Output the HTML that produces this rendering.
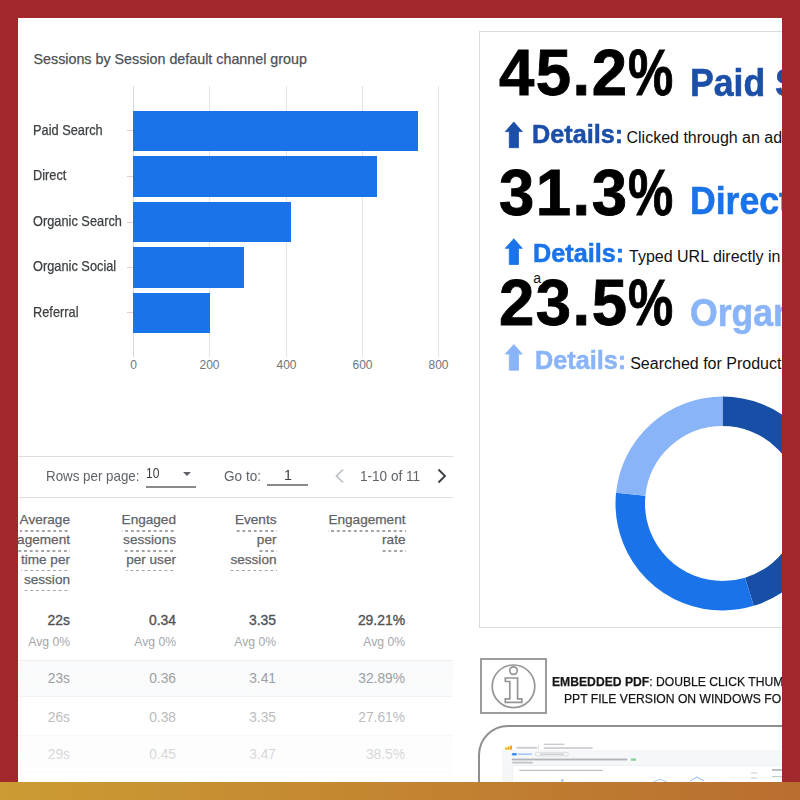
<!DOCTYPE html>
<html><head><meta charset="utf-8">
<style>
*{margin:0;padding:0;box-sizing:border-box}
html,body{width:800px;height:800px;overflow:hidden;background:#A1292D;font-family:"Liberation Sans",sans-serif}
#page{position:absolute;left:0;top:0;width:800px;height:800px;background:#fff;clip-path:inset(18px 18px 18px 18px);overflow:hidden}
.a{position:absolute;white-space:nowrap;line-height:1}
.r{text-align:right}
.g{position:absolute;background:#e3e3e3;width:1px}
.bar{position:absolute;left:133px;background:#1A73E8;height:41px}
.tk{position:absolute;left:127px;width:6px;height:1px;background:#d5d5d5}
.lbl{font-size:14.3px;color:#3c4043;-webkit-text-stroke:.25px #3c4043;transform:scaleX(.895);transform-origin:0 0}
.ax{font-size:12px;color:#70757a;width:40px;text-align:center}
.hd{font-size:13.6px;color:#5f6368;line-height:19.9px;-webkit-text-stroke:.25px #5f6368}
.hd span{padding-bottom:4.3px;background-image:linear-gradient(90deg,#a0a4a8 50%,transparent 50%);background-size:5.7px 1.6px;background-repeat:repeat-x;background-position:right bottom}
.pg{font-size:15px;color:#5f6368;transform:scaleX(.905);transform-origin:0 0}
.dot{position:absolute;height:1.5px;background-image:linear-gradient(90deg,#9aa0a6 60%,transparent 60%);background-size:4px 1.5px}
.v1{font-size:13.9px;color:#4f5358;-webkit-text-stroke:.35px #4f5358}
.avg{font-size:12.2px;color:#a3a7ab}
.v{font-size:13.8px;color:#7a7e83}
.big{left:499px;font-size:65.5px;font-weight:bold;color:#000;letter-spacing:1.5px;-webkit-text-stroke:.9px #000;transform:scaleX(.97);transform-origin:0 0}
.pc{display:inline-block;transform:scaleX(.8);transform-origin:0 0;letter-spacing:0}
.ttl{left:690.3px;font-size:38.5px;font-weight:bold;-webkit-text-stroke:.6px currentColor;transform:scaleX(.925);transform-origin:0 0}
.det{left:531.5px;font-size:26px;font-weight:bold;-webkit-text-stroke:.5px currentColor;transform:scaleX(.97);transform-origin:0 0}
.desc{left:626.5px;font-size:16px;color:#111}
.emb{font-size:13.5px;color:#151515;-webkit-text-stroke:.25px #151515;transform:scaleX(.9);transform-origin:0 0}
#gold{position:absolute;left:0;top:782px;width:800px;height:18px;background:linear-gradient(90deg,#CC9B33,#B96E2F)}
</style></head><body>
<div id="page">
  <!-- Chart -->
  <div class="a" style="left:33.5px;top:52.3px;font-size:14.3px;color:#4d5156;-webkit-text-stroke:.25px #4d5156">Sessions by Session default channel group</div>
  <div class="g" style="left:133px;top:86px;height:270.5px;background:#d8d8d8"></div>
  <div class="g" style="left:209px;top:86px;height:270.5px"></div>
  <div class="g" style="left:286px;top:86px;height:270.5px"></div>
  <div class="g" style="left:362px;top:86px;height:270.5px"></div>
  <div class="g" style="left:438px;top:86px;height:270.5px"></div>
  <div class="bar" style="top:110.5px;height:40px;width:285.1px"></div>
  <div class="bar" style="top:155.8px;height:41.2px;width:243.7px"></div>
  <div class="bar" style="top:202.4px;height:39.2px;width:158px"></div>
  <div class="bar" style="top:247.1px;height:41.2px;width:110.8px"></div>
  <div class="bar" style="top:292.9px;height:39.85px;width:77px"></div>
  <div class="tk" style="top:130px"></div>
  <div class="tk" style="top:176px"></div>
  <div class="tk" style="top:222px"></div>
  <div class="tk" style="top:267px"></div>
  <div class="tk" style="top:312px"></div>
  <div class="a lbl" style="left:33px;top:122.8px">Paid Search</div>
  <div class="a lbl" style="left:33px;top:168.3px">Direct</div>
  <div class="a lbl" style="left:33px;top:214.3px">Organic Search</div>
  <div class="a lbl" style="left:33px;top:259.3px">Organic Social</div>
  <div class="a lbl" style="left:33px;top:304.8px">Referral</div>
  <div class="a ax" style="left:113.5px;top:359px">0</div>
  <div class="a ax" style="left:189.5px;top:359px">200</div>
  <div class="a ax" style="left:266.5px;top:359px">400</div>
  <div class="a ax" style="left:342.5px;top:359px">600</div>
  <div class="a ax" style="left:418.5px;top:359px">800</div>

  <!-- Table -->
  <div style="position:absolute;left:18px;top:455.7px;width:434.8px;height:1.2px;background:#dcdee2"></div>
  <div style="position:absolute;left:18px;top:496.5px;width:434.8px;height:1.2px;background:#dcdee2"></div>
  <div class="a pg" style="left:46.3px;top:467.7px;transform:scaleX(.89)">Rows per page:</div>
  <div class="a pg" style="left:145.6px;top:466.2px;color:#3c4043;font-size:14px;transform:scaleX(.86)">10</div>
  <div style="position:absolute;left:182.8px;top:471.5px;width:0;height:0;border-left:4px solid transparent;border-right:4px solid transparent;border-top:4.5px solid #5f6368"></div>
  <div style="position:absolute;left:146px;top:485.9px;width:49.6px;height:1.7px;background:#8a8a8a"></div>
  <div class="a pg" style="left:223.5px;top:467.7px">Go to:</div>
  <div class="a pg" style="left:284px;top:466.5px;color:#3c4043;transform:scaleX(.95)">1</div>
  <div style="position:absolute;left:267px;top:484.4px;width:40.5px;height:1.5px;background:#8a8a8a"></div>
  <svg style="position:absolute;left:333px;top:467px" width="14" height="18"><path d="M10 2.5 L3.5 9 L10 15.5" fill="none" stroke="#bdc1c6" stroke-width="1.7"/></svg>
  <div class="a pg" style="left:359.5px;top:467.7px">1-10 of 11</div>
  <svg style="position:absolute;left:435px;top:467px" width="14" height="18"><path d="M3.5 2.5 L10 9 L3.5 15.5" fill="none" stroke="#3c4043" stroke-width="1.9"/></svg>

  <!-- header cols -->
  <div class="a hd r" style="left:-80px;width:150px;top:510.3px"><span>Average</span><br><span>engagement</span><br><span>time per</span><br><span>session</span></div>
  <div class="a hd r" style="left:26px;width:150px;top:510.3px"><span>Engaged</span><br><span>sessions</span><br><span>per user</span></div>
  <div class="a hd r" style="left:126.5px;width:150px;top:510.3px"><span>Events</span><br><span>per</span><br><span>session</span></div>
  <div class="a hd r" style="left:255.5px;width:150px;top:510.3px"><span>Engagement</span><br><span>rate</span></div>

  <!-- body rows -->
  <div style="position:absolute;left:18px;top:660px;width:435px;height:1px;background:#ececec"></div>
  <div style="position:absolute;left:18px;top:661px;width:435px;height:35px;background:#f8f9fa"></div>
  <div style="position:absolute;left:18px;top:696px;width:435px;height:1px;background:#ececec"></div>
  <div style="position:absolute;left:18px;top:735px;width:435px;height:1px;background:#ececec"></div>
  <div style="position:absolute;left:18px;top:736px;width:435px;height:36px;background:#f8f9fa"></div>
  <div style="position:absolute;left:18px;top:772px;width:435px;height:1px;background:#ececec"></div>

  <div class="a v1 r" style="left:20px;width:50px;top:614px">22s</div>
  <div class="a v1 r" style="left:126px;width:50px;top:614px">0.34</div>
  <div class="a v1 r" style="left:226px;width:50px;top:614px">3.35</div>
  <div class="a v1 r" style="left:345px;width:60px;top:614px">29.21%</div>
  <div class="a avg r" style="left:20px;width:50px;top:636px">Avg 0%</div>
  <div class="a avg r" style="left:126px;width:50px;top:636px">Avg 0%</div>
  <div class="a avg r" style="left:226px;width:50px;top:636px">Avg 0%</div>
  <div class="a avg r" style="left:345px;width:60px;top:636px">Avg 0%</div>

  <div class="a v r" style="left:20px;width:50px;top:672px">23s</div>
  <div class="a v r" style="left:126px;width:50px;top:672px">0.36</div>
  <div class="a v r" style="left:226px;width:50px;top:672px">3.41</div>
  <div class="a v r" style="left:345px;width:60px;top:672px">32.89%</div>
  <div class="a v r" style="left:20px;width:50px;top:710.5px">26s</div>
  <div class="a v r" style="left:126px;width:50px;top:710.5px">0.38</div>
  <div class="a v r" style="left:226px;width:50px;top:710.5px">3.35</div>
  <div class="a v r" style="left:345px;width:60px;top:710.5px">27.61%</div>
  <div class="a v r" style="left:20px;width:50px;top:747.5px">29s</div>
  <div class="a v r" style="left:126px;width:50px;top:747.5px">0.45</div>
  <div class="a v r" style="left:226px;width:50px;top:747.5px">3.47</div>
  <div class="a v r" style="left:345px;width:60px;top:747.5px">38.5%</div>
  <div style="position:absolute;left:18px;top:655px;width:440px;height:127px;background:linear-gradient(180deg,rgba(255,255,255,.12) 0%,rgba(255,255,255,.85) 100%)"></div>

  <!-- Right box -->
  <div style="position:absolute;left:478.9px;top:31.4px;width:400px;height:596.8px;border:1.7px solid #dbdbdb"></div>
  <div class="a big" style="top:39.6px">45.2<span class="pc">%</span></div>
  <div class="a ttl" style="top:63.6px;color:#1B4FA8">Paid Search</div>
  <div class="a det" style="top:121.3px;color:#1B4FA8">Details:</div>
  <div class="a desc" style="top:130.3px">Clicked through an ad</div>

  <div class="a big" style="top:159.5px">31.3<span class="pc">%</span></div>
  <div class="a ttl" style="top:182.1px;color:#1A73E8">Direct</div>
  <div class="a det" style="top:240px;left:533px;color:#1A73E8">Details:</div>
  <div class="a desc" style="top:248.8px;left:629px">Typed URL directly in</div>

  <div class="a big" style="top:269.9px">23.5<span class="pc">%</span></div>
  <div class="a" style="left:533.2px;top:270.7px;font-size:14px;color:#111;text-shadow:1px 1px 0 #fff,-1px 1px 0 #fff,1px -1px 0 #fff,-1px -1px 0 #fff,0 1.5px 0 #fff,1.5px 0 0 #fff">a</div>
  <div class="a ttl" style="top:293.6px;color:#8AB4F8">Organic Search</div>
  <div class="a det" style="top:347.2px;left:534.5px;color:#8AB4F8">Details:</div>
  <div class="a desc" style="top:355.9px;left:630.2px">Searched for Product</div>

  <!-- donut -->
  <svg style="position:absolute;left:0;top:0" width="800" height="800">
    <g transform="translate(722.5 503.5) rotate(-90)" fill="none" stroke-width="29.5">
      <circle r="92.25" stroke="#174EA6" stroke-dasharray="261.99 579.62"/>
      <circle r="92.25" stroke="#1A73E8" stroke-dasharray="181.42 579.62" stroke-dashoffset="-261.99"/>
      <circle r="92.25" stroke="#8AB4F8" stroke-dasharray="136.21 579.62" stroke-dashoffset="-443.41"/>
    </g>
    <path id="arr" d="M8.5 0 L17 9.6 L13.2 9.6 L13.2 25.7 L4 25.7 L4 9.6 L0 9.6 Z" transform="translate(505.3 122)" fill="#1B4FA8" stroke="#1B4FA8" stroke-width="0.8" stroke-linejoin="round"/>
    <path d="M8.5 0 L17 9.6 L13.2 9.6 L13.2 25.7 L4 25.7 L4 9.6 L0 9.6 Z" transform="translate(505.3 238.75)" fill="#1A73E8" stroke="#1A73E8" stroke-width="0.8" stroke-linejoin="round"/>
    <path d="M8.5 0 L17 9.6 L13.2 9.6 L13.2 25.7 L4 25.7 L4 9.6 L0 9.6 Z" transform="translate(505.3 344.5)" fill="#8AB4F8" stroke="#8AB4F8" stroke-width="0.8" stroke-linejoin="round"/>
    <!-- info icon -->
    <g fill="none" stroke="#959595" stroke-width="1.7">
      <circle cx="513.5" cy="686.3" r="21.3"/>
      <circle cx="513.5" cy="670.6" r="3.8"/>
      <path d="M505.3 678 L517.6 678 L517.6 698.8 L521.8 698.8 L521.8 702.3 L505.3 702.3 L505.3 698.8 L509.8 698.8 L509.8 681.5 L505.3 681.5 Z"/>
    </g>
  </svg>
  <!-- Embedded PDF -->
  <div style="position:absolute;left:480.2px;top:657.8px;width:66.6px;height:56.5px;border:2px solid #9c9c9c"></div>
  <div class="a emb" style="left:552px;top:674.8px"><b>EMBEDDED PDF</b>: DOUBLE CLICK THUMBNAIL TO OPEN</div>
  <div class="a emb" style="left:563.6px;top:692px">PPT FILE VERSION ON WINDOWS FOR</div>
  <!-- thumbnail -->
  <div style="position:absolute;left:478.3px;top:724.7px;width:420px;height:200px;border:2.7px solid #8f8f8f;border-radius:30px;overflow:hidden">
    <div style="position:absolute;left:22px;top:23px;width:400px;height:150px;background:#fff">
      <div style="position:absolute;left:0;top:0;width:400px;height:16px;background:#f6f7f8"></div>
      <div style="position:absolute;left:0;top:16px;width:400px;height:100px;background:#f5f6f7"></div>
      <div style="position:absolute;left:10px;top:15.5px;width:400px;height:60px;background:#fff;border:1px solid #eef0f2"></div>
    </div>
  </div>
  <svg style="position:absolute;left:0;top:0;filter:blur(.35px)" width="800" height="800">
    <g fill="#f29a1f"><rect x="505.3" y="747.5" width="1.8" height="2.2"/><rect x="507.6" y="746.6" width="1.8" height="3.1"/><rect x="509.9" y="745.6" width="2" height="4.1"/></g>
    <g fill="#ccced2">
      <rect x="516.6" y="746.8" width="20.6" height="2"/>
      <rect x="538.3" y="745" width="0.6" height="5"/>
      <rect x="543.8" y="743.6" width="20.6" height="1.5"/>
      <rect x="543.8" y="747.2" width="48.8" height="1.8"/>
    </g>
    <rect x="511.9" y="753" width="5" height="2.4" rx="1.2" fill="#1a73e8" opacity=".8"/>
    <rect x="518" y="753.4" width="14" height="1.6" fill="#a8c7fa"/>
    <rect x="535.3" y="752.4" width="33" height="3.6" rx="1.8" fill="none" stroke="#c9ccd0" stroke-width=".6"/>
    <rect x="540" y="753.6" width="24" height="1.2" fill="#c3c6ca"/>
    <rect x="511.9" y="758.6" width="115.4" height="1.8" fill="#b0b3b7"/>
    <rect x="631" y="758.4" width="5" height="2.4" fill="#8fd19e"/>
    <rect x="511.9" y="761.8" width="21" height="1.6" rx=".8" fill="#bfc2c6"/>
    <rect x="519.4" y="769.8" width="83.5" height="1.2" fill="#b9bcc0"/>
    <rect x="751" y="772.5" width="6" height="1" fill="#c9ccd0"/>
    <rect x="751" y="777.5" width="6" height="1" fill="#c9ccd0"/>
    <rect x="772" y="769.3" width="10" height="1.3" fill="#9a9ea3"/>
    <rect x="772" y="776" width="10" height="1.1" fill="#c5c8cc"/>
    <path d="M690 781 L697 777 L704 781" fill="none" stroke="#8ab4f8" stroke-width="1"/>
    <path d="M653 782 L660 779 L667 782" fill="none" stroke="#a8c7fa" stroke-width="1"/>
    <rect x="561" y="779.5" width="2.5" height="2" fill="#8ab4f8"/>
  </svg>
</div>
<div id="gold"></div>
</body></html>
